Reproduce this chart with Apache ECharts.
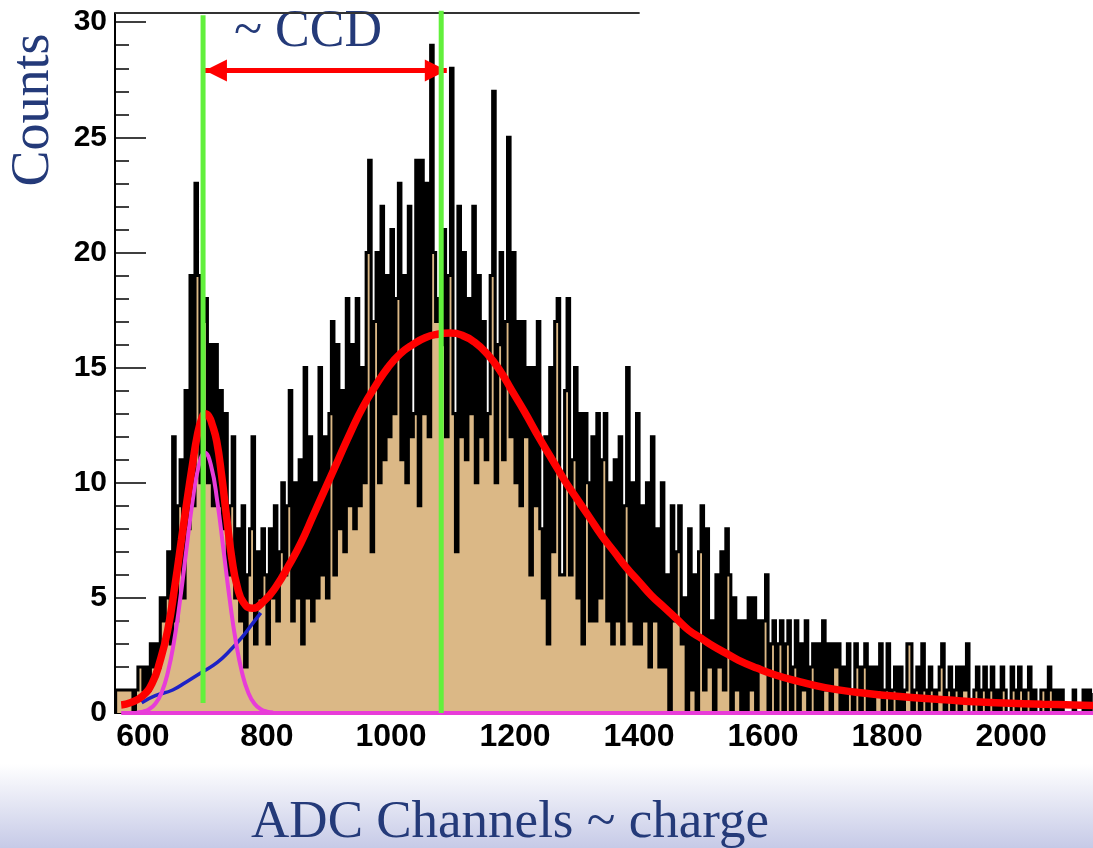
<!DOCTYPE html>
<html>
<head>
<meta charset="utf-8">
<title>ADC spectrum</title>
<script src="https://cdn.jsdelivr.net/npm/echarts@6/dist/echarts.min.js"></script>
<style>
  html, body { margin: 0; padding: 0; background: #ffffff; }
  #chart { width: 1093px; height: 848px; }
</style>
</head>
<body>
<div id="chart"></div>
<script>
// Histogram binning (ADC channels)
const BIN_START = 556;
const BIN_WIDTH = 4;

// Counts per bin, starting at BIN_START
const counts = [
  1,1,1,1,1,1,1,0,1,2,
  2,1,2,1,3,2,3,2,5,4,
  5,7,3,12,4,9,11,5,14,8,
  19,9,23,19,10,17,18,10,16,9,
  16,9,14,8,13,6,9,12,5,8,
  4,9,2,6,8,12,3,7,5,8,
  6,3,8,5,9,4,7,10,6,9,
  14,4,10,5,11,3,15,5,12,4,
  10,5,15,6,12,5,13,17,6,16,
  8,14,7,18,9,16,8,18,9,15,
  10,20,24,7,17,20,10,22,11,19,
  12,21,13,18,23,11,19,10,22,12,
  13,24,9,24,13,23,12,29,20,17,
  18,16,21,12,19,28,13,7,22,12,
  20,11,18,13,22,10,19,12,17,11,
  13,19,27,10,16,20,11,17,25,12,
  20,10,17,9,17,12,15,6,15,9,
  17,8,5,12,3,15,7,17,18,6,
  6,14,18,6,11,15,5,13,3,13,
  10,4,12,4,13,5,11,13,4,10,
  3,11,4,12,3,9,15,4,10,3,
  13,3,9,4,10,2,12,4,8,2,
  10,2,6,0,9,4,7,9,3,5,
  0,8,1,6,0,7,9,1,8,2,
  4,0,6,2,7,1,8,6,0,5,
  1,4,0,4,0,5,1,5,0,4,
  2,4,6,0,3,4,0,3,4,0,
  3,4,0,2,4,0,3,1,4,0,
  2,3,0,3,0,4,1,3,0,3,
  2,3,0,2,0,3,1,0,3,2,
  0,2,3,0,2,0,2,1,3,0,
  1,3,0,1,2,0,2,0,1,3,
  3,0,1,2,0,3,1,0,2,1,
  0,1,2,3,0,1,2,0,1,2,
  0,2,1,3,0,0,1,2,0,1,
  2,0,1,2,0,1,0,2,1,0,
  0,2,1,0,2,1,0,1,2,0,
  1,0,0,1,1,0,2,1,0,1,
  0,1,0,0,0,0,1,0,0,0,1,0,1,0
];

// Total fit (channel, counts)
const fitTotal = [
  [565,0.35],[580,0.45],[600,0.75],[615,1.3],[627,2.2],[640,3.6],[652,5.6],[662,7.5],
  [671,9.2],[680,10.8],[688,12.1],[695,12.8],[700,13.0],[706,12.9],[712,12.5],[719,11.8],
  [727,10.3],[735,8.5],[744,6.6],[752,5.5],[762,4.8],[776,4.55],[795,4.85],[815,5.5],
  [835,6.4],[855,7.4],[875,8.6],[895,9.8],[915,11.0],[935,12.2],[955,13.3],[975,14.2],
  [995,15.0],[1015,15.6],[1035,16.0],[1055,16.3],[1075,16.45],[1095,16.5],[1115,16.4],
  [1135,16.1],[1155,15.6],[1175,14.9],[1195,14.0],[1215,13.1],[1240,11.9],[1260,11.0],
  [1280,10.1],[1300,9.3],[1320,8.5],[1340,7.7],[1360,7.0],[1380,6.3],[1400,5.7],
  [1420,5.1],[1440,4.6],[1460,4.1],[1480,3.6],[1500,3.25],[1520,2.9],[1540,2.6],
  [1560,2.3],[1590,1.95],[1620,1.65],[1660,1.35],[1700,1.1],[1750,0.9],[1800,0.76],
  [1850,0.65],[1900,0.56],[1950,0.48],[2000,0.42],[2050,0.38],[2100,0.35],[2132,0.33]
];

// Pedestal peak component
const fitPeak = [
  [590,0.02],[600,0.06],[610,0.17],[620,0.4],[630,0.88],[640,1.74],[650,3.08],[660,4.92],
  [670,7.07],[680,9.18],[690,10.73],[700,11.3],[710,10.73],[720,9.18],[730,7.07],[740,4.92],
  [750,3.08],[760,1.74],[770,0.88],[780,0.4],[790,0.17],[800,0.06],[810,0.02]
];
const fitPeakBaseline = [[565,0],[2132,0]];

// Background component under the pedestal
const fitBackground = [
  [598,0.45],[620,0.75],[648,1.0],[670,1.35],[697,1.8],[720,2.2],[740,2.7],[760,3.3],
  [773,3.75],[790,4.35]
];

// Peak positions marked by vertical lines: [channel, from, to]
const pedestalMarker = [697, 0.43, 30.3];
const signalMarker = [1081, 0, 30.5];

// Distance arrow between the two peaks: [from channel, to channel, height]
const ccdArrow = [700, 1090, 27.9];

// Upper frame segment: [from channel, to channel, height]
const frameTop = [555, 1401, 30.4];

const histPoints = [[BIN_START, 0]];
counts.forEach(function (c, i) { histPoints.push([BIN_START + i * BIN_WIDTH, c]); });
histPoints.push([BIN_START + counts.length * BIN_WIDTH, counts[counts.length - 1]]);
histPoints.push([BIN_START + counts.length * BIN_WIDTH, 0]);

const NAVY = '#243a79';
const GREEN = '#62f03c';
const LABEL_FONT = '"Liberation Sans", Arial, Helvetica, sans-serif';
const SERIF = '"Liberation Serif", "Times New Roman", Times, serif';

const chart = echarts.init(document.getElementById('chart'), null, { renderer: 'canvas' });

chart.setOption({
  animation: false,
  backgroundColor: '#ffffff',
  grid: { left: 115, right: 0, top: 13, bottom: 135, containLabel: false },
  xAxis: {
    type: 'value',
    min: 555,
    max: 2132,
    splitNumber: 8,
    axisLine: { show: true, lineStyle: { color: '#000', width: 2 } },
    axisTick: { show: true, inside: true, length: 20, lineStyle: { color: '#000', width: 1.5 } },
    minorTick: { show: true, splitNumber: 4, length: 9, lineStyle: { color: '#000', width: 1.5 } },
    axisLabel: {
      show: true, margin: 8, color: '#000', fontWeight: 'bold', fontSize: 32,
      fontFamily: LABEL_FONT, showMinLabel: false, showMaxLabel: false,
      formatter: function (v) { return v % 200 === 0 ? String(v) : ''; }
    },
    splitLine: { show: false }
  },
  yAxis: {
    type: 'value',
    min: 0,
    max: 30.4,
    interval: 5,
    axisLine: { show: true, lineStyle: { color: '#000', width: 2 } },
    axisTick: { show: true, inside: true, length: 31, lineStyle: { color: '#000', width: 1.5 } },
    minorTick: { show: true, splitNumber: 5, length: 14, lineStyle: { color: '#000', width: 1.5 } },
    axisLabel: {
      show: true, margin: 8, color: '#000', fontWeight: 'bold', fontSize: 30,
      fontFamily: LABEL_FONT, showMaxLabel: false,
      formatter: function (v) { return v % 5 === 0 ? String(v) : ''; }
    },
    splitLine: { show: false }
  },
  graphic: [
    {
      type: 'rect', z: -10, silent: true,
      shape: { x: 0, y: 764, width: 1093, height: 84 },
      style: {
        fill: new echarts.graphic.LinearGradient(0, 0, 0, 1, [
          { offset: 0, color: '#ffffff' },
          { offset: 1, color: '#c6cae7' }
        ])
      }
    },
    {
      type: 'text', x: 34, y: 110, rotation: Math.PI / 2, silent: true,
      style: { text: 'Counts', font: '54px ' + SERIF, fill: NAVY, align: 'center', verticalAlign: 'middle' }
    },
    {
      type: 'text', x: 308, y: 32, silent: true,
      style: { text: '~ CCD', font: '52px ' + SERIF, fill: NAVY, align: 'center', verticalAlign: 'middle' }
    },
    {
      type: 'text', x: 510, y: 823, silent: true,
      style: { text: 'ADC Channels ~ charge', font: '53px ' + SERIF, fill: NAVY, align: 'center', verticalAlign: 'middle' }
    }
  ],
  series: [
    {
      name: 'counts', type: 'line', step: 'end', data: histPoints,
      symbol: 'none', silent: true, z: 2,
      lineStyle: { color: '#000', width: 3.1, join: 'miter' },
      areaStyle: { color: '#dbb886', opacity: 1 }
    },
    {
      name: 'frame', type: 'line', symbol: 'none', silent: true, clip: false, z: 3,
      data: [[frameTop[0], frameTop[2]], [frameTop[1], frameTop[2]]],
      lineStyle: { color: '#333', width: 2 }
    },
    {
      name: 'background', type: 'line', smooth: true, symbol: 'none', silent: true, z: 4,
      data: fitBackground, lineStyle: { color: '#1d22c6', width: 3.5 }
    },
    {
      name: 'pedestal base', type: 'line', symbol: 'none', silent: true, clip: false, z: 5,
      data: fitPeakBaseline, lineStyle: { color: '#e83cd8', width: 4 }
    },
    {
      name: 'pedestal', type: 'line', smooth: true, symbol: 'none', silent: true, z: 5,
      data: fitPeak, lineStyle: { color: '#e83cd8', width: 4 }
    },
    {
      name: 'fit', type: 'line', smooth: true, symbol: 'none', silent: true, z: 6,
      data: fitTotal, lineStyle: { color: '#ff0000', width: 7.5 }
    },
    {
      name: 'pedestal marker', type: 'line', symbol: 'none', silent: true, clip: false, z: 7,
      data: [[pedestalMarker[0], pedestalMarker[1]], [pedestalMarker[0], pedestalMarker[2]]],
      lineStyle: { color: GREEN, width: 5 }
    },
    {
      name: 'signal marker', type: 'line', symbol: 'none', silent: true, clip: false, z: 7,
      data: [[signalMarker[0], signalMarker[1]], [signalMarker[0], signalMarker[2]]],
      lineStyle: { color: GREEN, width: 5 }
    },
    {
      name: 'ccd', type: 'line', data: [], silent: true, z: 8,
      markLine: {
        silent: true, animation: false,
        symbol: ['triangle', 'triangle'],
        symbolSize: 22,
        symbolOffset: [[0, 11], [0, 11]],
        label: { show: false },
        lineStyle: { color: '#ff0000', width: 5, type: 'solid' },
        data: [[{ coord: [ccdArrow[0], ccdArrow[2]] }, { coord: [ccdArrow[1], ccdArrow[2]] }]]
      }
    }
  ]
});
</script>
</body>
</html>
